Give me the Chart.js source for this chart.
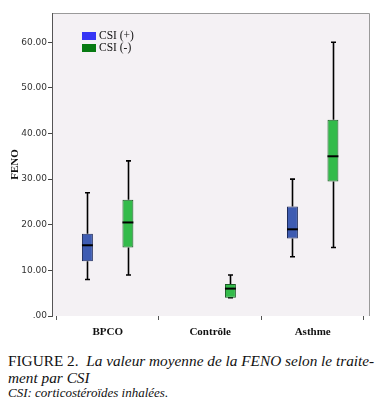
<!DOCTYPE html>
<html>
<head>
<meta charset="utf-8">
<script src="https://cdn.jsdelivr.net/npm/chart.js@4.4.0/dist/chart.umd.min.js"></script>
<style>
  html, body { margin: 0; padding: 0; background: #ffffff; }
  body { width: 380px; height: 411px; position: relative; overflow: hidden; }
  #wrap { position: absolute; left: 0; top: 0; width: 380px; height: 342px; }
  .cap { position: absolute; left: 8px; font-family: "Liberation Serif", "DejaVu Serif", serif; color: #111; white-space: nowrap; }
  #c1 { top: 352px; font-size: 15.3px; }
  #c2 { top: 369px; font-size: 15.3px; font-style: italic; }
  #c3 { top: 385px; font-size: 13px; font-style: italic; }
</style>
</head>
<body>
<div id="wrap"><canvas id="chart"></canvas></div>
<div class="cap" id="c1">FIGURE 2.&nbsp; <i>La valeur moyenne de la FENO selon le traite-</i></div>
<div class="cap" id="c2">ment par CSI</div>
<div class="cap" id="c3">CSI: corticostéroïdes inhalées.</div>
<script>
const categories = ['BPCO', 'Contrôle', 'Asthme'];
const seriesLabels = ['CSI (+)', 'CSI (-)'];

const csiPlusMin    = [8,    null, 13];
const csiPlusQ1     = [12,   null, 17];
const csiPlusMedian = [15.5, null, 19];
const csiPlusQ3     = [18,   null, 24];
const csiPlusMax    = [27,   null, 30];

const csiMinusMin    = [9,    4,   15];
const csiMinusQ1     = [15,   4,   29.5];
const csiMinusMedian = [20.5, 6,   35];
const csiMinusQ3     = [25.5, 7,   43];
const csiMinusMax    = [34,   9,   60];

const yTicks = [0, 10, 20, 30, 40, 50, 60];

const stats = [
  { min: csiPlusMin, q1: csiPlusQ1, med: csiPlusMedian, q3: csiPlusQ3, max: csiPlusMax },
  { min: csiMinusMin, q1: csiMinusQ1, med: csiMinusMedian, q3: csiMinusQ3, max: csiMinusMax }
];
const boxFill = ['#3e5cb2', '#33bb4a'];
const boxBorder = ['#1c2a5a', '#1a5a24'];
const legendFill = ['#3535f5', '#077a12'];

function floating(s) {
  return s.q1.map((v, i) => ({ x: i, y: v === null ? null : [v, s.q3[i]] }));
}

const boxPlugin = {
  id: 'boxPlugin',
  beforeDraw(chart) {
    const a = chart.chartArea, ctx = chart.ctx;
    ctx.save();
    ctx.fillStyle = '#f4f1f4';
    ctx.fillRect(a.left, a.top, a.right - a.left, a.bottom - a.top);
    ctx.strokeStyle = '#9a9a9a';
    ctx.lineWidth = 1;
    ctx.beginPath();
    ctx.moveTo(a.left, a.top + 0.5);
    ctx.lineTo(a.right - 0.5, a.top + 0.5);
    ctx.lineTo(a.right - 0.5, a.bottom);
    ctx.stroke();
    ctx.restore();
  },
  beforeDatasetsDraw(chart) {
    const ctx = chart.ctx, y = chart.scales.y;
    ctx.save();
    ctx.strokeStyle = '#000';
    ctx.lineWidth = 1.6;
    stats.forEach((s, di) => {
      const meta = chart.getDatasetMeta(di);
      meta.data.forEach((el, i) => {
        if (s.q1[i] === null) return;
        const x = Math.round(el.x) + 0.5;
        const capW = 2.5;
        const pMax = y.getPixelForValue(s.max[i]);
        const pMin = y.getPixelForValue(s.min[i]);
        const pQ1 = y.getPixelForValue(s.q1[i]);
        const pQ3 = y.getPixelForValue(s.q3[i]);
        ctx.beginPath();
        ctx.moveTo(x, pMax); ctx.lineTo(x, pQ3);
        ctx.moveTo(x, pQ1); ctx.lineTo(x, pMin);
        ctx.moveTo(x - capW, pMax); ctx.lineTo(x + capW, pMax);
        ctx.moveTo(x - capW, pMin); ctx.lineTo(x + capW, pMin);
        ctx.stroke();
      });
    });
    ctx.restore();
  },
  afterDatasetsDraw(chart) {
    const ctx = chart.ctx, y = chart.scales.y;
    ctx.save();
    ctx.strokeStyle = '#000';
    ctx.lineWidth = 2;
    stats.forEach((s, di) => {
      const meta = chart.getDatasetMeta(di);
      meta.data.forEach((el, i) => {
        if (s.q1[i] === null) return;
        const half = el.width / 2;
        const pMed = y.getPixelForValue(s.med[i]);
        ctx.beginPath();
        ctx.moveTo(el.x - half, pMed); ctx.lineTo(el.x + half, pMed);
        ctx.stroke();
      });
    });
    // legend
    const a = chart.chartArea;
    const lx = a.left + 30, ly = a.top + 19;
    ctx.font = '11.5px "Liberation Serif", serif';
    ctx.textBaseline = 'middle';
    seriesLabels.forEach((lab, k) => {
      const yy = ly + k * 12;
      ctx.fillStyle = legendFill[k];
      ctx.fillRect(lx, yy, 14, 8);
      ctx.fillStyle = '#111';
      ctx.fillText(lab, lx + 17, yy + 4);
    });
    ctx.restore();
  }
};

new Chart(document.getElementById('chart'), {
  type: 'bar',
  data: {
    datasets: seriesLabels.map((lab, k) => ({
      label: lab,
      data: floating(stats[k]),
      backgroundColor: boxFill[k],
      borderColor: boxBorder[k],
      borderWidth: 1,
      borderSkipped: false,
      categoryPercentage: 0.79,
      barPercentage: 0.27
    }))
  },
  options: {
    responsive: true,
    maintainAspectRatio: false,
    animation: false,
    layout: { padding: { top: 13, right: 10, left: 0, bottom: 0 } },
    plugins: { legend: { display: false }, tooltip: { enabled: false } },
    scales: {
      x: {
        type: 'linear',
        min: -0.543,
        max: 2.559,
        offset: false,
        afterBuildTicks(scale) { scale.ticks = categories.map((c, i) => ({ value: i })); },
        grid: { drawOnChartArea: false, tickLength: 4, color: '#555', tickWidth: 1 },
        border: { display: false },
        ticks: {
          padding: 6,
          color: '#111',
          font: { family: '"Liberation Serif", serif', size: 11, weight: 'bold' },
          callback: v => categories[v]
        },
        afterFit(scale) { scale.height = 26; }
      },
      y: {
        min: 0,
        max: 66.4,
        afterBuildTicks(scale) { scale.ticks = yTicks.map(v => ({ value: v })); },
        grid: { drawOnChartArea: false, tickLength: 4, color: '#444' },
        border: { display: true, color: '#555', width: 1 },
        ticks: {
          padding: 1,
          color: '#333',
          font: { family: '"DejaVu Sans", sans-serif', size: 9 },
          callback: v => (v === 0 ? '.00' : Number(v).toFixed(2))
        },
        title: {
          display: true,
          text: 'FENO',
          color: '#111',
          padding: { top: 9, bottom: 0 },
          font: { family: '"Liberation Serif", serif', size: 11, weight: 'bold' }
        },
        afterFit(scale) { scale.width = 52; }
      }
    }
  },
  plugins: [boxPlugin]
});
</script>
</body>
</html>
